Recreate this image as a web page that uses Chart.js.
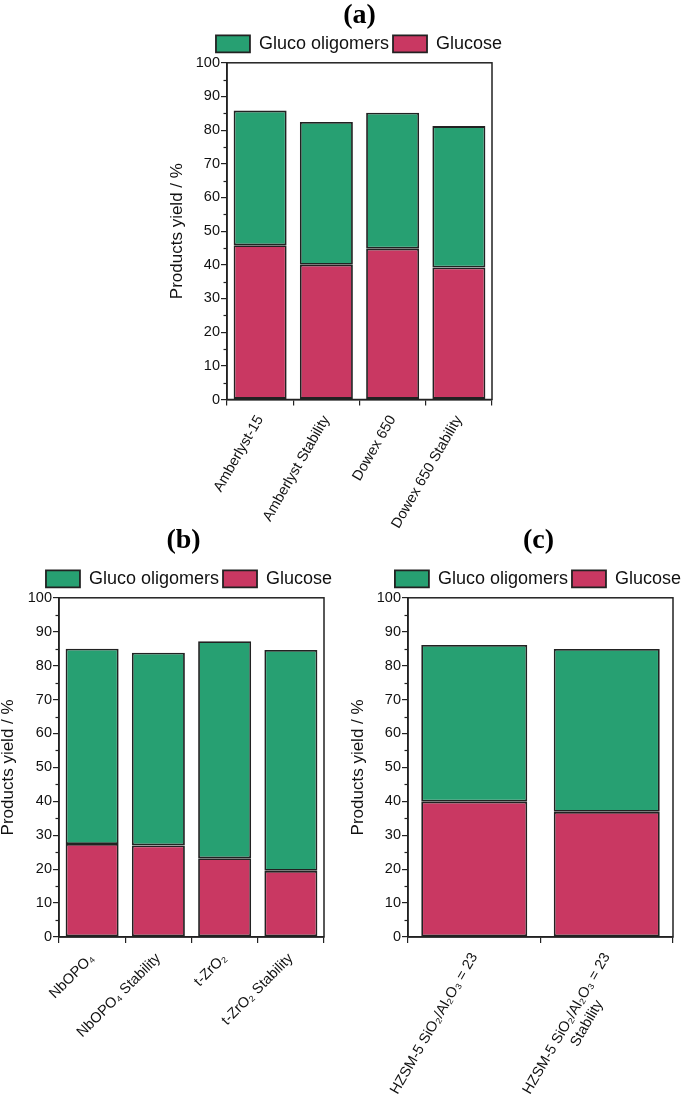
<!DOCTYPE html>
<html>
<head>
<meta charset="utf-8">
<script src="https://cdn.jsdelivr.net/npm/chart.js@4.4.1/dist/chart.umd.min.js"></script>
<style>
  body { margin: 0; background: #fff; width: 685px; height: 1100px; overflow: hidden; position: relative; }
  canvas { position: absolute; }
</style>
</head>
<body>
<canvas id="chartA" width="438" height="530" style="left:140px;top:0px"></canvas>
<canvas id="chartB" width="378" height="575" style="left:0px;top:525px"></canvas>
<canvas id="chartC" width="345" height="575" style="left:340px;top:525px"></canvas>
<script>
// data (% yield)
const yTicks = [0, 10, 20, 30, 40, 50, 60, 70, 80, 90, 100];
const seriesNames = ["Gluco oligomers", "Glucose"];

const catsA = ["Amberlyst-15", "Amberlyst Stability", "Dowex 650", "Dowex 650 Stability"];
const glucoseA = [45.8, 40.0, 44.8, 39.2];
const oligoA = [40.0, 42.4, 40.4, 42.0];

const catsB = ["NbOPO\u2084", "NbOPO\u2084 Stability", "t-ZrO\u2082", "t-ZrO\u2082 Stability"];
const glucoseB = [27.4, 27.0, 23.2, 19.5];
const oligoB = [57.6, 56.8, 64.0, 65.1];

const catsC = ["HZSM-5 SiO\u2082/Al\u2082O\u2083 = 23", ["HZSM-5 SiO\u2082/Al\u2082O\u2083 = 23", "Stability"]];
const glucoseC = [39.9, 36.9];
const oligoC = [46.2, 48.0];

const green = "#27a072";
const crimson = "#c93862";
const ink = "#222222";
const sans = "'Liberation Sans', Arial, 'DejaVu Sans', sans-serif";

// box around plot + small minor ticks on y
const framePlugin = {
    id: "frame",
    afterLayout(chart) {
        const shift = chart.options.titleShift || 0;
        if (chart.titleBlock) {
            chart.titleBlock.left += shift;
            chart.titleBlock.right += shift;
        }
    },
    afterDraw(chart) {
        const {ctx, chartArea: a} = chart;
        const y = chart.scales.y;
        ctx.save();
        ctx.strokeStyle = ink;
        ctx.lineWidth = 1.5;
        ctx.strokeRect(a.left, a.top, a.right - a.left, a.bottom - a.top);
        ctx.lineWidth = 1.2;
        for (let i = 0; i < yTicks.length - 1; i++) {
            const py = Math.round(y.getPixelForValue((yTicks[i] + yTicks[i + 1]) / 2)) + 0.5;
            ctx.beginPath();
            ctx.moveTo(a.left - 3.5, py);
            ctx.lineTo(a.left, py);
            ctx.stroke();
        }
        ctx.restore();
    }
};

// rotated labels are right aligned; pad the 2nd line so it sits roughly centred
function xLabel(value) {
    const lbl = this.getLabelForValue(value);
    if (Array.isArray(lbl)) return [lbl[0], lbl[1] + "\u00a0".repeat(11)];
    return lbl;
}

function makePanel(id, title, cats, glucose, oligo, o) {
    new Chart(document.getElementById(id), {
        type: "bar",
        data: {
            labels: cats,
            datasets: [
                { label: seriesNames[1], data: glucose, backgroundColor: crimson,
                  borderColor: ink, borderWidth: 1.8, borderSkipped: false,
                  barPercentage: 0.8, categoryPercentage: 1 },
                { label: seriesNames[0], data: oligo, backgroundColor: green,
                  borderColor: ink, borderWidth: 1.8, borderSkipped: false,
                  barPercentage: 0.8, categoryPercentage: 1 }
            ]
        },
        options: {
            responsive: false,
            animation: false,
            titleShift: o.titleShift,
            layout: { padding: 0 },
            plugins: {
                title: {
                    display: true,
                    text: title,
                    fullSize: false,
                    color: "#000",
                    font: { family: "'Liberation Serif', 'Times New Roman', serif", size: 28, weight: "bold", lineHeight: 1.1 },
                    padding: { top: 0, bottom: o.titleGap }
                },
                legend: {
                    position: "top",
                    reverse: true,
                    align: o.legendAlign,
                    labels: {
                        color: "#111",
                        font: { family: sans, size: 18 },
                        boxWidth: 34,
                        boxHeight: 17,
                        padding: 4
                    }
                },
                tooltip: { enabled: false }
            },
            scales: {
                x: {
                    stacked: true,
                    grid: { drawOnChartArea: false, offset: true, color: ink, lineWidth: 1.2, tickLength: 6 },
                    border: { display: true, color: ink, width: 1.5 },
                    ticks: {
                        autoSkip: false,
                        minRotation: o.rot,
                        maxRotation: o.rot,
                        padding: 7,
                        color: "#111",
                        font: { family: sans, size: 14.5 },
                        callback: xLabel
                    },
                    afterFit(s) { s.height = o.xh; }
                },
                y: {
                    stacked: true,
                    min: yTicks[0],
                    max: yTicks[yTicks.length - 1],
                    afterBuildTicks(s) { s.ticks = yTicks.map(v => ({ value: v })); },
                    grid: { drawOnChartArea: false, color: ink, lineWidth: 1.2, tickLength: 6 },
                    border: { display: true, color: ink, width: 1.5 },
                    ticks: { padding: 1, color: "#111", font: { family: sans, size: 14.5 } },
                    title: {
                        display: true,
                        text: "Products yield / %",
                        color: "#111",
                        font: { family: sans, size: 17, lineHeight: 1 },
                        padding: { top: o.yTitlePad, bottom: 0 }
                    },
                    afterFit(s) { s.width = o.yw; }
                },
                yr: {
                    type: "linear",
                    position: "right",
                    grid: { display: false, drawTicks: false },
                    border: { display: false },
                    ticks: { display: false },
                    afterFit(s) { s.width = o.rw; }
                }
            }
        },
        plugins: [framePlugin]
    });
}

makePanel("chartA", "(a)", catsA, glucoseA, oligoA,
    { yw: 87, rw: 86, xh: 130.5, rot: 60, titleGap: 0, yTitlePad: 29, legendAlign: "center", titleShift: 0 });
makePanel("chartB", "(b)", catsB, glucoseB, oligoB,
    { yw: 59, rw: 54, xh: 163, rot: 45, titleGap: 10, yTitlePad: 0, legendAlign: "center", titleShift: -8 });
makePanel("chartC", "(c)", catsC, glucoseC, oligoC,
    { yw: 68, rw: 12, xh: 163, rot: 60, titleGap: 10, yTitlePad: 10, legendAlign: "end", titleShift: -2 });
</script>
</body>
</html>
